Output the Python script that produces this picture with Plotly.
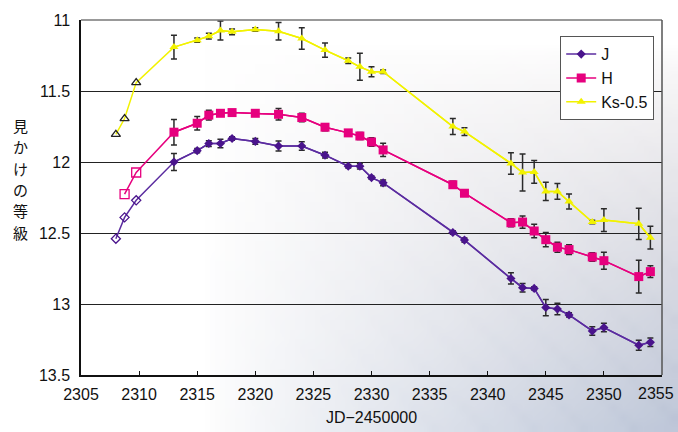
import base64
import struct
import zlib
import plotly.graph_objects as go

# ---- data ----
j_open_x = [2308.0, 2308.75, 2309.75]
j_open_y = [12.54, 12.39, 12.27]
j_x = [2313, 2315, 2316, 2317, 2318, 2320, 2322, 2324, 2326, 2328, 2329, 2330, 2331,
       2337, 2338, 2342, 2343, 2344, 2345, 2346, 2347, 2349, 2350, 2353, 2354]
j_y = [12.00, 11.92, 11.87, 11.87, 11.835, 11.855, 11.887, 11.887, 11.952, 12.03, 12.03, 12.11, 12.147,
       12.496, 12.55, 12.82, 12.885, 12.89, 13.025, 13.035, 13.077, 13.19, 13.166, 13.29, 13.27]
j_err = [0.06, 0.015, 0.02, 0.03, 0.012, 0.02, 0.035, 0.03, 0.02, 0.012, 0.02, 0.012, 0.02,
         0.012, 0.015, 0.04, 0.03, 0.012, 0.057, 0.04, 0.015, 0.03, 0.03, 0.035, 0.03]

h_open_x = [2308.75, 2309.75]
h_open_y = [12.226, 12.074]
h_x = j_x
h_y = [11.79, 11.727, 11.67, 11.657, 11.652, 11.657, 11.664, 11.687, 11.755, 11.795, 11.817, 11.859, 11.915,
       12.16, 12.22, 12.428, 12.423, 12.486, 12.547, 12.60, 12.617, 12.669, 12.695, 12.807, 12.772]
h_err = [0.09, 0.047, 0.035, 0.015, 0.02, 0.012, 0.04, 0.03, 0.025, 0.012, 0.025, 0.03, 0.047,
         0.025, 0.012, 0.028, 0.043, 0.048, 0.05, 0.035, 0.035, 0.03, 0.06, 0.115, 0.042]

k_open_x = [2308.0, 2308.75, 2309.75]
k_open_y = [11.805, 11.694, 11.441]
k_x = j_x
k_y = [11.191, 11.142, 11.114, 11.074, 11.083, 11.067, 11.079, 11.13, 11.212, 11.287, 11.33, 11.364, 11.364,
       11.75, 11.786, 12.01, 12.074, 12.07, 12.207, 12.207, 12.278, 12.423, 12.409, 12.435, 12.533]
k_err = [0.083, 0.015, 0.02, 0.067, 0.02, 0.012, 0.062, 0.076, 0.05, 0.02, 0.095, 0.035, 0.012,
         0.056, 0.028, 0.076, 0.13, 0.08, 0.064, 0.056, 0.053, 0.012, 0.08, 0.11, 0.08]

y_ticks = [11, 11.5, 12, 12.5, 13, 13.5]
x_ticks = list(range(2305, 2356, 5))
# last tick label is placed as an annotation (shifted left to fit the page, as in the original)
x_ticktext = [str(v) for v in x_ticks[:-1]] + [""]
last_tick_label = str(x_ticks[-1])
names = ["J", "H", "Ks-0.5"]
y_title_chars = ["見", "か", "け", "の", "等", "級"]
x_title = "JD−2450000"

J_COL = "#4a148c"
J_LINE = "#5b2ca0"
H_COL = "#e6007e"
K_COL = "#f2f200"
ERR_COL = "#2a2a2a"

W, H = 678, 432
ML, MR, MT, MB = 81, 16, 20, 57
PW, PH = W - ML - MR, H - MT - MB


# ---- soft background gradient (page decoration outside plot area) ----
def make_bg_png(cols=68, rows=44):
    raw = bytearray()
    for r in range(rows):
        raw.append(0)
        fy = r / (rows - 1)
        for c in range(cols):
            fx = c / (cols - 1)
            a = max(0.0, (fx - 0.3) / 0.7) ** 0.9
            b = max(0.0, (fy - 0.1) / 0.9) ** 0.7
            t = min(1.0, a * b * 0.8 + (0.06 if (r * 7 + c * 3) % 5 == 0 else 0.0) * a * b)
            tr = 205 - 30 * fy
            tg = 196 - 10 * fy
            tb = 200 + 8 * fy
            raw += bytes([int(255 + (tr - 255) * t), int(255 + (tg - 255) * t), int(255 + (tb - 255) * t)])

    def chunk(tag, data):
        return struct.pack(">I", len(data)) + tag + data + struct.pack(">I", zlib.crc32(tag + data) & 0xffffffff)

    png = b"\x89PNG\r\n\x1a\n" + chunk(b"IHDR", struct.pack(">IIBBBBB", cols, rows, 8, 2, 0, 0, 0)) \
        + chunk(b"IDAT", zlib.compress(bytes(raw), 9)) + chunk(b"IEND", b"")
    return "data:image/png;base64," + base64.b64encode(png).decode()


fig = go.Figure()


def add_series(ox, oy, fx, fy, ferr, name, lcol, mcol, sym, size, open_sym, open_col):
    fig.add_trace(go.Scatter(x=ox + fx, y=oy + fy, mode="lines",
                             line=dict(color=lcol, width=1.5), showlegend=False, hoverinfo="skip"))
    fig.add_trace(go.Scatter(x=ox, y=oy, mode="markers", showlegend=False,
                             marker=dict(symbol=open_sym, size=size, color=open_col,
                                         line=dict(width=1.3, color=open_col))))
    fig.add_trace(go.Scatter(x=fx, y=fy, mode="lines+markers", name=name,
                             line=dict(color=lcol, width=1.5),
                             marker=dict(symbol=sym, size=size, color=mcol, line=dict(width=0)),
                             error_y=dict(type="data", array=ferr, visible=True,
                                          color=ERR_COL, thickness=1.5, width=3)))


add_series(k_open_x, k_open_y, k_x, k_y, k_err, names[2], K_COL, K_COL, "triangle-up", 8,
           "triangle-up-open", "#222222")
add_series(h_open_x, h_open_y, h_x, h_y, h_err, names[1], H_COL, H_COL, "square", 9,
           "square-open", H_COL)
add_series(j_open_x, j_open_y, j_x, j_y, j_err, names[0], J_LINE, J_COL, "diamond", 7,
           "diamond-open", J_COL)

for i, ch in enumerate(y_title_chars):
    fig.add_annotation(text=ch, xref="paper", yref="paper",
                       x=(20 - ML) / PW, y=1 - (124.5 + 21.5 * i - MT) / PH,
                       showarrow=False, font=dict(size=15, color="#111111", family="Noto Sans CJK JP"),
                       xanchor="center", yanchor="middle", height=20)

fig.add_annotation(text=last_tick_label, xref="paper", yref="paper",
                   x=(676 - ML) / PW, y=1 - (393 - MT) / PH,
                   showarrow=False, font=dict(size=16, color="#111111"),
                   xanchor="right", yanchor="middle")

fig.add_layout_image(dict(source=make_bg_png(), xref="paper", yref="paper",
                          x=-ML / PW, y=1 + MT / PH, sizex=W / PW, sizey=H / PH,
                          xanchor="left", yanchor="top", sizing="stretch", layer="below"))

fig.update_layout(
    width=W, height=H,
    margin=dict(l=ML, r=MR, t=MT, b=MB),
    paper_bgcolor="white",
    plot_bgcolor="#dde1f1",
    font=dict(family="Liberation Sans, Arial, sans-serif", size=16, color="#111111"),
    legend=dict(x=(560 - ML) / PW, y=1 - (36 - MT) / PH, xanchor="left", yanchor="top",
                bgcolor="white", bordercolor="#555555", borderwidth=1.2,
                font=dict(size=16), traceorder="reversed", itemwidth=30),
    showlegend=True,
)
fig.update_xaxes(range=[2305, 2355], tickvals=x_ticks, ticktext=x_ticktext,
                 ticks="inside", ticklen=4, tickcolor="#111111", tickwidth=1,
                 showline=True, linecolor="#111111", linewidth=1.5, mirror=False,
                 showgrid=False, zeroline=False, automargin=False, ticklabelstandoff=4,
                 title=dict(text=x_title, font=dict(size=16), standoff=10))
fig.update_yaxes(range=[13.5, 11], tickvals=y_ticks, ticktext=[str(v) for v in y_ticks],
                 ticks="", showline=True, linecolor="#111111", linewidth=1.5,
                 showgrid=True, gridcolor="#222222", gridwidth=1.3, zeroline=False,
                 ticklabelstandoff=6, automargin=False)
fig.add_shape(type="line", xref="paper", yref="paper", x0=0, x1=1, y0=1, y1=1,
              line=dict(color="#777777", width=1.5))
fig.add_shape(type="line", xref="paper", yref="paper", x0=1, x1=1, y0=0, y1=1,
              line=dict(color="#555555", width=1.5))

fig.write_html("out.html", config={"displayModeBar": False},
               post_script="document.body.style.margin='0';document.body.style.padding='0';")
